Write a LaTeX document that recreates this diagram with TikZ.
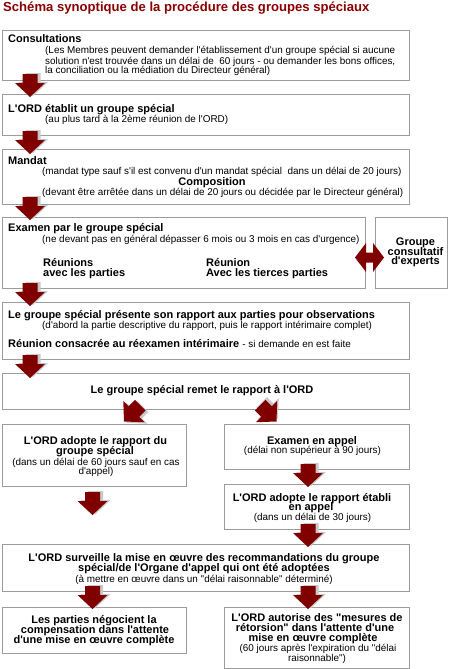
\documentclass[tikz,border=0pt]{standalone}
\usepackage{fontspec}
\setmainfont{Liberation Sans}[Ligatures=TeXOff]
\usetikzlibrary{fit}
\definecolor{arrred}{HTML}{800000}
\definecolor{titlered}{HTML}{8B0000}
\definecolor{arrshadow}{HTML}{C8C8C8}
\definecolor{boxgray}{HTML}{9C9C9C}
\tikzset{
  box/.style={draw=boxgray, line width=1pt, fill=white, inner sep=0pt, outer sep=0pt},
  tb/.style={font=\fontsize{11}{10}\selectfont\bfseries, inner sep=0pt, anchor=base west},
  tr/.style={font=\fontsize{9.9}{10}\selectfont, inner sep=0pt, anchor=base west},
  tbc/.style={tb, anchor=base},
  trc/.style={tr, anchor=base},
  downarr/.pic={
    \fill[arrshadow] (3,-1) -- (18,-15) -- (10.5,-15) -- (10.5,-24) -- (-4.5,-24) -- (-4.5,-15) -- (-12,-15) -- cycle;
    \fill[arrred] (0,0) -- (15,-14) -- (7.5,-14) -- (7.5,-23) -- (-7.5,-23) -- (-7.5,-14) -- (-15,-14) -- cycle;
  },
  dblarr/.pic={
    \fill[arrred] (-14.5,0) -- (-3.5,-14.5) -- (-3.5,-5) -- (3.5,-5) -- (3.5,-14.5) -- (14.5,0) -- (3.5,14.5) -- (3.5,5) -- (-3.5,5) -- (-3.5,14.5) -- cycle;
  }
}
\begin{document}
\begin{tikzpicture}[x=1pt,y=-1pt]
\useasboundingbox (0,0) rectangle (450,669);
\fill[white] (0,0) rectangle (450,669);

\node[font=\fontsize{13.1}{13}\selectfont\bfseries, text=titlered, anchor=base west, inner sep=0pt] (title) at (3,12) {Schéma synoptique de la procédure des groupes spéciaux};

% boxes
\node[box, fit={(2.5,30.5) (409.5,80.5)}] (b1) {};
\node[box, fit={(2.5,94.5) (409.5,135.5)}] (b2) {};
\node[box, fit={(2.5,149.5) (409.5,204.5)}] (b3) {};
\node[box, fit={(2.5,217.5) (365.5,288.5)}] (b4) {};
\node[box, fit={(375.5,217.5) (447.5,288.5)}] (bg) {};
\node[box, fit={(2.5,302.5) (409.5,359.5)}] (b5) {};
\node[box, fit={(2.5,373.5) (409.5,409.5)}] (b6) {};
\node[box, fit={(2.5,424.5) (186.5,486.5)}] (b7) {};
\node[box, fit={(224.5,424.5) (409.5,469.5)}] (b8) {};
\node[box, fit={(224.5,484.5) (409.5,529.5)}] (b9) {};
\node[box, fit={(2.5,544.5) (409.5,591.5)}] (b10) {};
\node[box, fit={(2.5,607.5) (186.5,653.5)}] (b11) {};
\node[box, fit={(224.5,607.5) (409.5,668)}] (b12) {};

% arrows
\pic at (30,97) {downarr};
\pic at (30,154) {downarr};
\pic at (30,220) {downarr};
\pic at (30,306) {downarr};
\pic at (30,378) {downarr};
\pic[rotate=-45] at (124,421.5) {downarr};
\pic[rotate=45] at (276.5,421.5) {downarr};
\pic at (308,487) {downarr};
\pic at (92.5,515) {downarr};
\pic at (308,547) {downarr};
\pic at (92.5,609) {downarr};
\pic at (308,609) {downarr};
\pic at (369.5,257.5) {dblarr};

% box 1
\node[tb] (t1a) at (8,43) {Consultations};
\node[tr] (t1b) at (45,54) {(Les Membres peuvent demander l'établissement d'un groupe spécial si aucune};
\node[tr] (t1c) at (45,64) {solution n'est trouvée dans un délai de \ 60 jours - ou demander les bons offices,};
\node[tr] (t1d) at (45,74) {la conciliation ou la médiation du Directeur général)};
% box 2
\node[tb] (t2a) at (8,112.5) {L'ORD établit un groupe spécial};
\node[tr] (t2b) at (45,122) {(au plus tard à la 2ème réunion de l'ORD)};
% box 3
\node[tb] (t3a) at (8,164) {Mandat};
\node[tr] (t3b) at (42,174.5) {(mandat type sauf s'il est convenu d'un mandat spécial \ dans un délai de 20 jours)};
\node[tbc] (t3c) at (212,185) {Composition};
\node[tr] (t3d) at (42,195) {(devant être arrêtée dans un délai de 20 jours ou décidée par le Directeur général)};
% box 4
\node[tb] (t4a) at (8,231.5) {Examen par le groupe spécial};
\node[tr] (t4b) at (42,242.3) {(ne devant pas en général dépasser 6 mois ou 3 mois en cas d'urgence)};
\node[tb] (t4c) at (43,266) {Réunions};
\node[tb] (t4d) at (43,276) {avec les parties};
\node[tb] (t4e) at (206,266) {Réunion};
\node[tb] (t4f) at (206,276) {Avec les tierces parties};
\node[tbc] (tga) at (415.5,245) {Groupe};
\node[tbc] (tgb) at (415.5,255) {consultatif};
\node[tbc] (tgc) at (415.5,264.5) {d'experts};
% box 5
\node[tb] (t5a) at (8,318) {Le groupe spécial présente son rapport aux parties pour observations};
\node[tr] (t5b) at (42,328) {(d'abord la partie descriptive du rapport, puis le rapport intérimaire complet)};
\node[tb] (t5c) at (8,347.7) {Réunion consacrée au réexamen intérimaire};
\node[tr, anchor=base west] (t5d) at (t5c.base east) {\ - si demande en est faite};
% box 6
\node[tbc] (t6a) at (202,393) {Le groupe spécial remet le rapport à l'ORD};
% box 7
\node[tbc] (t7a) at (95.5,444.3) {L'ORD adopte le rapport du};
\node[tbc] (t7b) at (95,454) {groupe spécial};
\node[trc] (t7c) at (96,465) {(dans un délai de 60 jours sauf en cas};
\node[trc] (t7d) at (96,474) {d'appel)};
% box 8
\node[tbc] (t8a) at (312,444.3) {Examen en appel};
\node[trc] (t8b) at (312.5,453.3) {(délai non supérieur à 90 jours)};
% box 9
\node[tbc] (t9a) at (312,501) {L'ORD adopte le rapport établi};
\node[tbc] (t9b) at (311,510.7) {en appel};
\node[trc] (t9c) at (312.5,520) {(dans un délai de 30 jours)};
% box 10
\node[tbc] (t10a) at (204,561.7) {L'ORD surveille la mise en œuvre des recommandations du groupe};
\node[tbc] (t10b) at (204,571.7) {spécial/de l'Organe d'appel qui ont été adoptées};
\node[trc] (t10c) at (204,582.7) {(à mettre en œuvre dans un "délai raisonnable" déterminé)};
% box 11
\node[tbc] (t11a) at (94,623.3) {Les parties négocient la};
\node[tbc] (t11b) at (95,633.3) {compensation dans l'attente};
\node[tbc] (t11c) at (94,643.3) {d'une mise en œuvre complète};
% box 12
\node[tbc] (t12a) at (317,621.7) {L'ORD autorise des "mesures de};
\node[tbc] (t12b) at (315,631.7) {rétorsion" dans l'attente d'une};
\node[tbc] (t12c) at (313,641.7) {mise en œuvre complète};
\node[trc] (t12d) at (318,651.7) {(60 jours après l'expiration du "délai};
\node[trc] (t12e) at (317,661) {raisonnable")};
\end{tikzpicture}
\end{document}
